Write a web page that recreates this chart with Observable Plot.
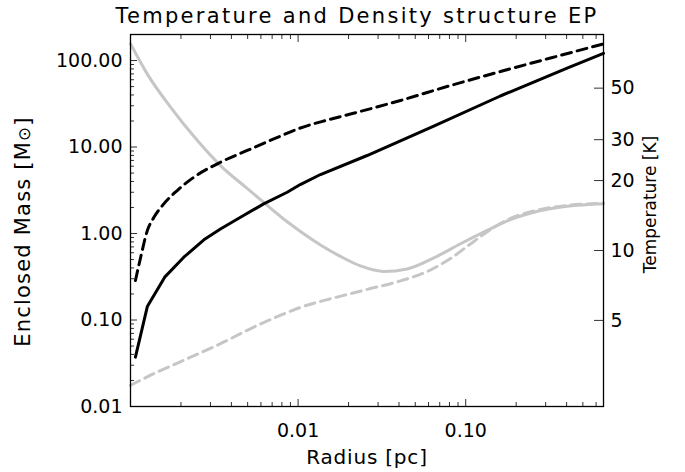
<!DOCTYPE html>
<html><head><meta charset="utf-8">
<script src="https://cdn.jsdelivr.net/npm/d3@7"></script>
<script src="https://cdn.jsdelivr.net/npm/@observablehq/plot@0.6"></script>
<style>body{margin:0;background:#fff}</style>
</head><body><div id="chart"></div>
<script>
const title = "Temperature and Density structure EP";
const xLabel = "Radius [pc]";
const yLabelLeft = "Enclosed Mass [M⊙]";
const yLabelRight = "Temperature [K]";

const radiusDomain = [0.001, 0.664];
const massDomain = [0.01, 200];
const tempDomain = [2.13, 85.1];

const radiusTicks = [0.01, 0.1];
const radiusTickLabels = ["0.01", "0.10"];
const massTicks = [0.01, 0.1, 1, 10, 100];
const massTickLabels = ["0.01", "0.10", "1.00", "10.00", "100.00"];
const tempTicks = [5, 10, 20, 30, 50];
const tempTickLabels = ["5", "10", "20", "30", "50"];

// Enclosed mass, solid black
const massSolidR = [0.00107, 0.00126, 0.00160, 0.00208, 0.00274, 0.00344, 0.00453, 0.00623, 0.00861, 0.0103, 0.0136, 0.0258, 0.0645, 0.161, 0.403, 0.664];
const massSolidM = [0.0372, 0.143, 0.313, 0.532, 0.845, 1.13, 1.54, 2.20, 3.0, 3.68, 4.81, 7.98, 17.4, 38.9, 81.9, 121];
// Enclosed mass, dashed black
const massDashR = [0.00107, 0.00115, 0.00126, 0.00138, 0.00158, 0.00190, 0.00239, 0.00344, 0.00497, 0.00716, 0.01033, 0.01457, 0.02054, 0.04078, 0.0812, 0.1612, 0.3206, 0.667];
const massDashM = [0.286, 0.532, 1.08, 1.54, 2.20, 3.14, 4.48, 6.67, 9.12, 12.4, 16.6, 20.25, 24.07, 34.5, 51.4, 74.6, 106.9, 156];
// Temperature, solid gray
const tempSolidR = [0.001, 0.001258, 0.001733, 0.0025, 0.003443, 0.00497, 0.006243, 0.00861, 0.01033, 0.0136, 0.0179, 0.02357, 0.03245, 0.04477, 0.06451, 0.0931, 0.1344, 0.1769, 0.2549, 0.4033, 0.6637];
const tempSolidT = [77.6, 57.6, 41.4, 29.8, 23.2, 18.5, 16.1, 13.3, 12.08, 10.57, 9.43, 8.58, 8.12, 8.33, 9.29, 10.69, 12.2, 13.4, 14.6, 15.5, 15.9];
// Temperature, dashed gray
const tempDashR = [0.001, 0.001377, 0.00218, 0.003443, 0.005443, 0.00861, 0.01033, 0.0136, 0.01633, 0.02584, 0.04083, 0.05893, 0.0812, 0.1118, 0.1472, 0.1769, 0.2549, 0.4033, 0.6637];
const tempDashT = [2.627, 2.949, 3.42, 3.97, 4.68, 5.41, 5.69, 6.04, 6.25, 6.80, 7.40, 8.12, 9.24, 10.94, 12.57, 13.53, 14.80, 15.63, 15.97];

const L = Math.log10;
// map temperature (right axis) onto the left log scale
const tToY = t => Math.pow(10, L(massDomain[0]) + (L(t) - L(tempDomain[0])) / (L(tempDomain[1]) - L(tempDomain[0])) * (L(massDomain[1]) - L(massDomain[0])));

const zip = (xs, ys) => xs.map((x, i) => ({r: x, v: ys[i]}));
const massSolid = zip(massSolidR, massSolidM);
const massDash = zip(massDashR, massDashM);
const tempSolid = zip(tempSolidR, tempSolidT);
const tempDash = zip(tempDashR, tempDashT);

const minorOf = (lo, hi) => {
  const out = [];
  for (let e = Math.floor(L(lo)); e <= Math.ceil(L(hi)); e++)
    for (let k = 2; k <= 9; k++) { const v = +(k * Math.pow(10, e)).toPrecision(6); if (v > lo * 1.0001 && v < hi * 0.9999) out.push(v); }
  return out;
};
const xMajor = [0.01, 0.1];
const xMinor = minorOf(radiusDomain[0], radiusDomain[1]);
const yMajor = massTicks.filter(v => v > massDomain[0] * 1.0001);
const yMinor = minorOf(massDomain[0], massDomain[1]);
const tempTickY = tempTicks.map(tToY);

const FONT = "DejaVu Sans";
const tickColor = "#333";
const gray = "#c6c6c6";

const chart = Plot.plot({
  width: 685, height: 472,
  marginLeft: 130, marginRight: 82, marginTop: 34, marginBottom: 66,
  style: {fontFamily: FONT, background: "white", color: "black"},
  x: {type: "log", domain: radiusDomain, label: null},
  y: {type: "log", domain: massDomain, label: null},
  marks: [
    Plot.line(tempSolid, {x: "r", y: d => tToY(d.v), stroke: gray, strokeWidth: 3, curve: "monotone-x"}),
    Plot.line(tempDash, {x: "r", y: d => tToY(d.v), stroke: gray, strokeWidth: 3, strokeDasharray: "10,6", curve: "monotone-x"}),
    Plot.line(massSolid, {x: "r", y: "v", stroke: "black", strokeWidth: 3, curve: "linear"}),
    Plot.line(massDash, {x: "r", y: "v", stroke: "black", strokeWidth: 3, strokeDasharray: "10,6", curve: "monotone-x"}),
    // left axis labels + inward ticks
    Plot.axisY(massTicks, {anchor: "left", tickSize: 0, tickPadding: 8, fontSize: 19, label: null,
      tickFormat: d => massTickLabels[massTicks.indexOf(d)]}),
    Plot.axisY(yMajor, {anchor: "left", tickSize: 7, dx: 7, fill: "none", stroke: tickColor, label: null}),
    Plot.axisY(yMinor, {anchor: "left", tickSize: 4, dx: 4, fill: "none", stroke: tickColor, label: null}),
    // bottom axis
    Plot.axisX(radiusTicks, {anchor: "bottom", tickSize: 0, tickPadding: 17, fontSize: 19, label: null,
      tickFormat: d => radiusTickLabels[radiusTicks.indexOf(d)]}),
    Plot.axisX(xMajor, {anchor: "bottom", tickSize: 7, dy: -7, fill: "none", stroke: tickColor, label: null}),
    Plot.axisX(xMinor, {anchor: "bottom", tickSize: 4, dy: -4, fill: "none", stroke: tickColor, label: null}),
    // top axis ticks
    Plot.axisX(xMajor, {anchor: "top", tickSize: 7, dy: 7, fill: "none", stroke: tickColor, label: null}),
    Plot.axisX(xMinor, {anchor: "top", tickSize: 4, dy: 4, fill: "none", stroke: tickColor, label: null}),
    // right temperature axis
    Plot.axisY(tempTickY, {anchor: "right", tickSize: 10, dx: -10, fill: "none", stroke: tickColor, label: null}),
    Plot.text(tempTicks, {frameAnchor: "right", y: d => tToY(d), text: (d, i) => tempTickLabels[i],
      dx: 7, textAnchor: "start", fontSize: 19}),
    Plot.frame({stroke: "black", strokeWidth: 1.3}),
    // titles
    Plot.text([title], {frameAnchor: "top", text: d => d, dx: -10, dy: -12, lineAnchor: "bottom", fontSize: 21}),
    Plot.text([xLabel], {frameAnchor: "bottom", text: d => d, dy: 57, lineAnchor: "bottom", fontSize: 20}),
    Plot.text([yLabelLeft], {frameAnchor: "left", text: d => d, dx: -107, dy: 11, rotate: -90, textAnchor: "middle", fontSize: 21}),
    Plot.text([yLabelRight], {frameAnchor: "right", text: d => d, dx: 47, dy: -16, rotate: -90, textAnchor: "middle", fontSize: 17})
  ]
});

const svg = d3.select(chart);
svg.selectAll("text").filter(function() { return this.textContent === title; })
  .style("letter-spacing", "2.3px");
svg.selectAll("text").filter(function() { return this.textContent === xLabel; })
  .style("letter-spacing", "0.8px");
svg.selectAll("text").filter(function() { return this.textContent === yLabelLeft; })
  .style("letter-spacing", "1.2px")
  .each(function() {
    const t = d3.select(this);
    const parts = yLabelLeft.split("⊙");
    t.text("");
    t.append("tspan").text(parts[0]);
    t.append("tspan").attr("font-size", "0.8em").text("⊙");
    t.append("tspan").text(parts[1]);
  });
document.getElementById("chart").appendChild(chart);
</script>
</body></html>
